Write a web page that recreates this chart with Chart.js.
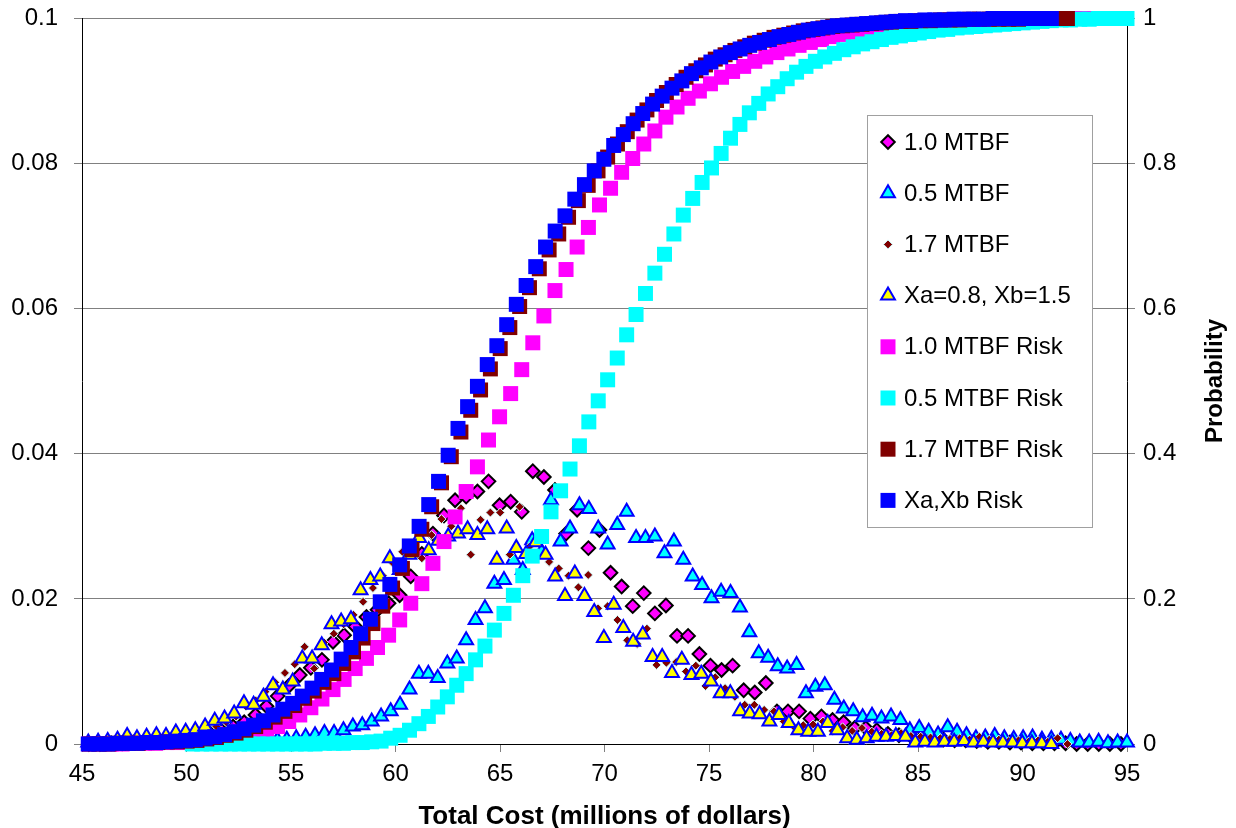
<!DOCTYPE html>
<html lang="en">
<head>
<meta charset="UTF-8">
<title>Total Cost distribution</title>
<script src="https://cdn.jsdelivr.net/npm/chart.js"></script>
<style>
  html, body { margin: 0; padding: 0; background: #fff; }
  .chart-box { position: relative; width: 1236px; height: 828px; }
</style>
</head>
<body>
<div class="chart-box"><canvas id="costChart" width="1236" height="828"></canvas></div>
<script>
// histogram bin centres (millions of dollars), one grid per case
const binsMtbf10 = [45.33, 45.86, 46.39, 46.92, 47.45, 47.99, 48.52, 49.05, 49.58, 50.11,
  50.64, 51.17, 51.70, 52.23, 52.76, 53.30, 53.83, 54.36, 54.89, 55.42,
  55.95, 56.48, 57.01, 57.54, 58.07, 58.61, 59.14, 59.67, 60.20, 60.73,
  61.26, 61.79, 62.32, 62.85, 63.38, 63.92, 64.45, 64.98, 65.51, 66.04,
  66.57, 67.10, 67.63, 68.16, 68.69, 69.23, 69.76, 70.29, 70.82, 71.35,
  71.88, 72.41, 72.94, 73.47, 74.00, 74.54, 75.07, 75.60, 76.13, 76.66,
  77.19, 77.72, 78.25, 78.78, 79.31, 79.85, 80.38, 80.91, 81.44, 81.97,
  82.50, 83.03, 83.56, 84.09, 84.62, 85.16, 85.69, 86.22, 86.75, 87.28,
  87.81, 88.34, 88.87, 89.40, 89.93, 90.47, 91.00, 91.53, 92.06, 92.59,
  93.12, 93.65, 94.18, 94.71];
const binsMtbf05 = [50.28, 50.73, 51.18, 51.64, 52.09, 52.54, 52.99, 53.44, 53.89, 54.35,
  54.80, 55.25, 55.70, 56.15, 56.60, 57.06, 57.51, 57.96, 58.41, 58.86,
  59.31, 59.77, 60.22, 60.67, 61.12, 61.57, 62.02, 62.48, 62.93, 63.38,
  63.83, 64.28, 64.73, 65.19, 65.64, 66.09, 66.54, 66.99, 67.44, 67.90,
  68.35, 68.80, 69.25, 69.70, 70.15, 70.61, 71.06, 71.51, 71.96, 72.41,
  72.87, 73.32, 73.77, 74.22, 74.67, 75.12, 75.58, 76.03, 76.48, 76.93,
  77.38, 77.83, 78.29, 78.74, 79.19, 79.64, 80.09, 80.54, 81.00, 81.45,
  81.90, 82.35, 82.80, 83.25, 83.71, 84.16, 84.61, 85.06, 85.51, 85.96,
  86.42, 86.87, 87.32, 87.77, 88.22, 88.67, 89.13, 89.58, 90.03, 90.48,
  90.93, 91.38, 91.84, 92.29, 92.74, 93.19, 93.64, 94.09, 94.55, 95.00];
const binsMtbf17 = [45.35, 45.82, 46.29, 46.75, 47.22, 47.69, 48.16, 48.63, 49.09, 49.56,
  50.03, 50.50, 50.97, 51.43, 51.90, 52.37, 52.84, 53.31, 53.77, 54.24,
  54.71, 55.18, 55.65, 56.11, 56.58, 57.05, 57.52, 57.99, 58.45, 58.92,
  59.39, 59.86, 60.33, 60.79, 61.26, 61.73, 62.20, 62.67, 63.13, 63.60,
  64.07, 64.54, 65.01, 65.47, 65.94, 66.41, 66.88, 67.35, 67.81, 68.28,
  68.75, 69.22, 69.69, 70.15, 70.62, 71.09, 71.56, 72.03, 72.49, 72.96,
  73.43, 73.90, 74.37, 74.83, 75.30, 75.77, 76.24, 76.71, 77.17, 77.64,
  78.11, 78.58, 79.05, 79.51, 79.98, 80.45, 80.92, 81.39, 81.85, 82.32,
  82.79, 83.26, 83.73, 84.19, 84.66, 85.13, 85.60, 86.07, 86.53, 87.00,
  87.47, 87.94, 88.41, 88.87, 89.34, 89.81, 90.28, 90.75, 91.21, 91.68,
  92.15];
const binsXaXb = [45.30, 45.77, 46.23, 46.70, 47.16, 47.63, 48.09, 48.56, 49.02, 49.49,
  49.96, 50.42, 50.89, 51.35, 51.82, 52.28, 52.75, 53.21, 53.68, 54.14,
  54.61, 55.08, 55.54, 56.01, 56.47, 56.94, 57.40, 57.87, 58.33, 58.80,
  59.27, 59.73, 60.20, 60.66, 61.13, 61.59, 62.06, 62.52, 62.99, 63.45,
  63.92, 64.39, 64.85, 65.32, 65.78, 66.25, 66.71, 67.18, 67.64, 68.11,
  68.58, 69.04, 69.51, 69.97, 70.44, 70.90, 71.37, 71.83, 72.30, 72.76,
  73.23, 73.70, 74.16, 74.63, 75.09, 75.56, 76.02, 76.49, 76.95, 77.42,
  77.89, 78.35, 78.82, 79.28, 79.75, 80.21, 80.68, 81.14, 81.61, 82.07,
  82.54, 83.01, 83.47, 83.94, 84.40, 84.87, 85.33, 85.80, 86.26, 86.73,
  87.20, 87.66, 88.13, 88.59, 89.06, 89.52, 89.99, 90.45, 90.92, 91.38];

// probability per bin (left axis)
const pdfMtbf10 = [0.0000, 0.0000, 0.0001, 0.0001, 0.0002, 0.0002, 0.0003, 0.0005, 0.0006, 0.0008,
  0.0011, 0.0014, 0.0018, 0.0024, 0.0030, 0.0040, 0.0052, 0.0066, 0.0080, 0.0095,
  0.0105, 0.0116, 0.0141, 0.0150, 0.0162, 0.0175, 0.0185, 0.0194, 0.0205, 0.0231,
  0.0262, 0.0290, 0.0315, 0.0336, 0.0341, 0.0348, 0.0362, 0.0329, 0.0334, 0.0320,
  0.0376, 0.0368, 0.0350, 0.0290, 0.0323, 0.0270, 0.0295, 0.0236, 0.0217, 0.0190,
  0.0208, 0.0180, 0.0191, 0.0149, 0.0149, 0.0124, 0.0108, 0.0102, 0.0108, 0.0074,
  0.0071, 0.0084, 0.0045, 0.0045, 0.0045, 0.0035, 0.0038, 0.0033, 0.0030, 0.0022,
  0.0022, 0.0019, 0.0014, 0.0012, 0.0012, 0.0008, 0.0008, 0.0006, 0.0005, 0.0005,
  0.0004, 0.0003, 0.0003, 0.0002, 0.0002, 0.0001, 0.0001, 0.0001, 0.0001, 0.0000,
  0.0000, 0.0000, 0.0000, 0.0000];
const pdfMtbf05 = [0.0000, 0.0000, 0.0001, 0.0001, 0.0001, 0.0002, 0.0003, 0.0003, 0.0004, 0.0005,
  0.0006, 0.0008, 0.0010, 0.0012, 0.0015, 0.0015, 0.0019, 0.0024, 0.0026, 0.0031,
  0.0038, 0.0045, 0.0054, 0.0075, 0.0097, 0.0097, 0.0091, 0.0111, 0.0118, 0.0143,
  0.0171, 0.0187, 0.0221, 0.0226, 0.0254, 0.0240, 0.0281, 0.0265, 0.0336, 0.0279,
  0.0297, 0.0329, 0.0324, 0.0297, 0.0275, 0.0302, 0.0320, 0.0284, 0.0284, 0.0286,
  0.0263, 0.0279, 0.0254, 0.0231, 0.0219, 0.0201, 0.0210, 0.0208, 0.0188, 0.0154,
  0.0125, 0.0119, 0.0107, 0.0104, 0.0109, 0.0070, 0.0079, 0.0081, 0.0061, 0.0049,
  0.0045, 0.0037, 0.0039, 0.0035, 0.0038, 0.0033, 0.0019, 0.0022, 0.0017, 0.0013,
  0.0023, 0.0017, 0.0012, 0.0008, 0.0009, 0.0011, 0.0008, 0.0007, 0.0008, 0.0009,
  0.0006, 0.0007, 0.0006, 0.0004, 0.0002, 0.0002, 0.0003, 0.0001, 0.0002, 0.0002];
const pdfMtbf17 = [0.0000, 0.0001, 0.0001, 0.0002, 0.0002, 0.0003, 0.0004, 0.0005, 0.0006, 0.0008,
  0.0010, 0.0013, 0.0018, 0.0024, 0.0030, 0.0038, 0.0052, 0.0060, 0.0072, 0.0085,
  0.0098, 0.0110, 0.0134, 0.0104, 0.0140, 0.0152, 0.0165, 0.0178, 0.0196, 0.0215,
  0.0232, 0.0250, 0.0265, 0.0270, 0.0256, 0.0288, 0.0310, 0.0300, 0.0325, 0.0261,
  0.0309, 0.0319, 0.0319, 0.0261, 0.0327, 0.0272, 0.0285, 0.0251, 0.0242, 0.0232,
  0.0216, 0.0233, 0.0187, 0.0190, 0.0171, 0.0143, 0.0138, 0.0159, 0.0109, 0.0112,
  0.0113, 0.0100, 0.0108, 0.0080, 0.0092, 0.0077, 0.0065, 0.0054, 0.0054, 0.0047,
  0.0045, 0.0031, 0.0024, 0.0026, 0.0027, 0.0031, 0.0018, 0.0023, 0.0018, 0.0022,
  0.0017, 0.0014, 0.0012, 0.0015, 0.0011, 0.0010, 0.0009, 0.0008, 0.0007, 0.0008,
  0.0006, 0.0010, 0.0006, 0.0006, 0.0004, 0.0005, 0.0003, 0.0005, 0.0003, 0.0008,
  0.0000];
const pdfXaXb = [0.0002, 0.0003, 0.0004, 0.0006, 0.0011, 0.0008, 0.0010, 0.0012, 0.0011, 0.0016,
  0.0017, 0.0019, 0.0024, 0.0032, 0.0035, 0.0042, 0.0056, 0.0054, 0.0065, 0.0081,
  0.0075, 0.0086, 0.0118, 0.0118, 0.0136, 0.0165, 0.0169, 0.0172, 0.0212, 0.0226,
  0.0231, 0.0256, 0.0240, 0.0261, 0.0284, 0.0267, 0.0280, 0.0286, 0.0290, 0.0296,
  0.0288, 0.0296, 0.0254, 0.0297, 0.0270, 0.0262, 0.0278, 0.0261, 0.0231, 0.0204,
  0.0235, 0.0204, 0.0182, 0.0146, 0.0192, 0.0160, 0.0141, 0.0151, 0.0120, 0.0120,
  0.0098, 0.0116, 0.0095, 0.0097, 0.0086, 0.0070, 0.0070, 0.0045, 0.0042, 0.0041,
  0.0031, 0.0040, 0.0029, 0.0019, 0.0017, 0.0017, 0.0029, 0.0019, 0.0008, 0.0006,
  0.0008, 0.0010, 0.0010, 0.0011, 0.0010, 0.0002, 0.0003, 0.0002, 0.0003, 0.0003,
  0.0004, 0.0002, 0.0003, 0.0002, 0.0002, 0.0002, 0.0001, 0.0001, 0.0001, 0.0000];

// cumulative probability (right axis)
const cdfMtbf10 = [0.000, 0.000, 0.000, 0.000, 0.001, 0.001, 0.001, 0.002, 0.002, 0.003,
  0.004, 0.005, 0.007, 0.008, 0.010, 0.013, 0.018, 0.024, 0.031, 0.040,
  0.050, 0.062, 0.075, 0.089, 0.104, 0.118, 0.133, 0.150, 0.171, 0.194,
  0.221, 0.249, 0.279, 0.313, 0.348, 0.382, 0.419, 0.451, 0.483, 0.516,
  0.553, 0.590, 0.625, 0.654, 0.685, 0.712, 0.743, 0.766, 0.788, 0.807,
  0.827, 0.845, 0.864, 0.878, 0.890, 0.900, 0.910, 0.919, 0.927, 0.934,
  0.941, 0.947, 0.953, 0.958, 0.963, 0.967, 0.971, 0.975, 0.978, 0.981,
  0.984, 0.986, 0.988, 0.990, 0.991, 0.993, 0.994, 0.995, 0.996, 0.997,
  0.997, 0.998, 0.998, 0.999, 0.999, 0.999, 0.999, 1.000, 1.000, 1.000,
  1.000, 1.000, 1.000, 1.000];
const cdfMtbf05 = [0.000, 0.000, 0.000, 0.000, 0.000, 0.000, 0.000, 0.000, 0.000, 0.000,
  0.000, 0.000, 0.000, 0.000, 0.001, 0.001, 0.001, 0.002, 0.002, 0.003,
  0.004, 0.008, 0.012, 0.019, 0.028, 0.038, 0.051, 0.065, 0.081, 0.097,
  0.116, 0.135, 0.157, 0.180, 0.205, 0.232, 0.259, 0.286, 0.320, 0.349,
  0.379, 0.411, 0.444, 0.473, 0.502, 0.532, 0.564, 0.592, 0.621, 0.649,
  0.675, 0.703, 0.729, 0.752, 0.774, 0.794, 0.814, 0.835, 0.854, 0.870,
  0.883, 0.896, 0.906, 0.917, 0.926, 0.934, 0.941, 0.947, 0.952, 0.957,
  0.961, 0.965, 0.968, 0.971, 0.974, 0.976, 0.978, 0.980, 0.982, 0.984,
  0.985, 0.987, 0.988, 0.989, 0.990, 0.991, 0.992, 0.993, 0.994, 0.995,
  0.996, 0.997, 0.998, 0.998, 0.999, 0.999, 1.000, 1.000, 1.000, 1.000];
const cdfMtbf17 = [0.000, 0.000, 0.000, 0.001, 0.001, 0.001, 0.002, 0.002, 0.003, 0.003,
  0.004, 0.005, 0.007, 0.009, 0.012, 0.015, 0.019, 0.024, 0.030, 0.037,
  0.045, 0.053, 0.063, 0.073, 0.085, 0.097, 0.111, 0.127, 0.146, 0.166,
  0.190, 0.215, 0.242, 0.268, 0.296, 0.327, 0.360, 0.396, 0.430, 0.460,
  0.488, 0.517, 0.545, 0.574, 0.603, 0.629, 0.655, 0.681, 0.703, 0.726,
  0.749, 0.770, 0.790, 0.809, 0.827, 0.844, 0.860, 0.874, 0.887, 0.898,
  0.909, 0.919, 0.928, 0.936, 0.944, 0.950, 0.956, 0.961, 0.966, 0.970,
  0.974, 0.977, 0.980, 0.983, 0.985, 0.987, 0.989, 0.990, 0.991, 0.992,
  0.993, 0.994, 0.995, 0.996, 0.996, 0.997, 0.997, 0.998, 0.998, 0.998,
  0.999, 0.999, 0.999, 0.999, 0.999, 0.999, 1.000, 1.000, 1.000, 1.000,
  1.000];
const cdfXaXb = [0.000, 0.000, 0.000, 0.001, 0.001, 0.001, 0.002, 0.002, 0.003, 0.004,
  0.005, 0.006, 0.008, 0.010, 0.013, 0.017, 0.021, 0.026, 0.032, 0.040,
  0.048, 0.056, 0.066, 0.077, 0.089, 0.102, 0.117, 0.133, 0.152, 0.172,
  0.196, 0.220, 0.247, 0.273, 0.300, 0.330, 0.362, 0.398, 0.435, 0.465,
  0.493, 0.523, 0.549, 0.578, 0.606, 0.632, 0.658, 0.685, 0.707, 0.728,
  0.751, 0.771, 0.790, 0.806, 0.825, 0.840, 0.855, 0.869, 0.882, 0.893,
  0.904, 0.914, 0.924, 0.932, 0.940, 0.947, 0.953, 0.958, 0.963, 0.967,
  0.971, 0.975, 0.978, 0.981, 0.984, 0.986, 0.988, 0.990, 0.991, 0.992,
  0.993, 0.994, 0.995, 0.996, 0.997, 0.997, 0.998, 0.998, 0.998, 0.999,
  0.999, 0.999, 0.999, 1.000, 1.000, 1.000, 1.000, 1.000, 1.000, 1.000];

// axis ticks
const costTicks = [45, 50, 55, 60, 65, 70, 75, 80, 85, 90, 95];
const pdfTicks = [0, 0.02, 0.04, 0.06, 0.08, 0.1];
const cdfTicks = [0, 0.2, 0.4, 0.6, 0.8, 1];

const FONT = '"Liberation Sans", Arial, sans-serif';

function toPoints(xs, ys) {
  return ys.map((y, i) => ({ x: xs[i], y: y }));
}

function marker(label, xs, ys, axis, style, radius, fill, stroke, strokeWidth, order) {
  return {
    label: label,
    data: toPoints(xs, ys),
    yAxisID: axis,
    pointStyle: style,
    pointRadius: radius,
    pointHoverRadius: radius,
    pointBackgroundColor: fill,
    pointBorderColor: stroke,
    pointBorderWidth: strokeWidth,
    showLine: false,
    clip: false,
    order: order
  };
}

// same shapes as the chart points, used for the legend box
function drawMarker(ctx, ds, x, y) {
  const r = ds.pointRadius;
  ctx.beginPath();
  if (ds.pointStyle === 'rect') {
    const s = r * Math.SQRT1_2;
    ctx.rect(x - s, y - s, 2 * s, 2 * s);
  } else if (ds.pointStyle === 'rectRot') {
    ctx.moveTo(x, y - r);
    ctx.lineTo(x + r, y);
    ctx.lineTo(x, y + r);
    ctx.lineTo(x - r, y);
    ctx.closePath();
  } else {
    ctx.moveTo(x, y - r);
    ctx.lineTo(x + r * Math.sin(2 * Math.PI / 3), y + r / 2);
    ctx.lineTo(x - r * Math.sin(2 * Math.PI / 3), y + r / 2);
    ctx.closePath();
  }
  ctx.fillStyle = ds.pointBackgroundColor;
  ctx.fill();
  if (ds.pointBorderWidth > 0) {
    ctx.lineWidth = ds.pointBorderWidth;
    ctx.strokeStyle = ds.pointBorderColor;
    ctx.stroke();
  }
}

const boxLegend = {
  id: 'boxLegend',
  afterDraw(chart) {
    const ctx = chart.ctx;
    ctx.save();
    // legend inside the plot
    ctx.fillStyle = '#fff';
    ctx.fillRect(867, 115, 225, 412);
    ctx.strokeStyle = '#a0a0a0';
    ctx.lineWidth = 1;
    ctx.strokeRect(867.5, 115.5, 225, 412);
    ctx.font = '24px ' + FONT;
    ctx.textBaseline = 'middle';
    ctx.textAlign = 'left';
    chart.data.datasets.forEach((ds, i) => {
      const y = 142 + i * 51.2;
      drawMarker(ctx, ds, 888, y);
      ctx.fillStyle = '#000';
      ctx.fillText(ds.label, 904, y + 1);
    });
    // right axis title, reading upwards
    ctx.translate(1215, 381);
    ctx.rotate(-Math.PI / 2);
    ctx.font = 'bold 24px ' + FONT;
    ctx.textAlign = 'center';
    ctx.fillText('Probability', 0, 0);
    ctx.restore();
  }
};

// fixed plot frame: drop the extra room Chart.js keeps for the end labels
function fixedWidth(w) {
  return (s) => { s.width = w; s.paddingTop = 0; s.paddingBottom = 0; };
}

new Chart(document.getElementById('costChart'), {
  type: 'scatter',
  data: {
    datasets: [
      marker('1.0 MTBF', binsMtbf10, pdfMtbf10, 'y', 'rectRot', 6.8, '#ff00ff', '#000000', 2, 8),
      marker('0.5 MTBF', binsMtbf05, pdfMtbf05, 'y', 'triangle', 8, '#00ffff', '#0000ff', 2, 7),
      marker('1.7 MTBF', binsMtbf17, pdfMtbf17, 'y', 'rectRot', 4.5, '#800000', '#ccffff', 1, 6),
      marker('Xa=0.8, Xb=1.5', binsXaXb, pdfXaXb, 'y', 'triangle', 8, '#ffff00', '#0000ff', 2, 5),
      marker('1.0 MTBF Risk', binsMtbf10, cdfMtbf10, 'y2', 'rect', 10.6, '#ff00ff', '#ff00ff', 0, 4),
      marker('0.5 MTBF Risk', binsMtbf05, cdfMtbf05, 'y2', 'rect', 10.6, '#00ffff', '#00ffff', 0, 3),
      marker('1.7 MTBF Risk', binsMtbf17, cdfMtbf17, 'y2', 'rect', 10.6, '#800000', '#800000', 0, 2),
      marker('Xa,Xb Risk', binsXaXb, cdfXaXb, 'y2', 'rect', 10.6, '#0000ff', '#0000ff', 0, 1)
    ]
  },
  options: {
    responsive: false,
    animation: false,
    events: [],
    layout: { padding: { top: 18.5, right: 0, bottom: 0, left: 0 } },
    plugins: {
      legend: { display: false },
      tooltip: { enabled: false }
    },
    scales: {
      x: {
        type: 'linear',
        min: 45,
        max: 95,
        afterBuildTicks: (s) => { s.ticks = costTicks.map(v => ({ value: v })); },
        afterFit: (s) => { s.height = 84; s.paddingLeft = 0; s.paddingRight = 0; },
        ticks: { color: '#000', font: { family: FONT, size: 24 }, padding: 8, maxRotation: 0 },
        grid: { drawOnChartArea: false, drawTicks: true, tickLength: 8, tickColor: '#808080' },
        border: { color: '#000', width: 1 },
        title: {
          display: true,
          text: 'Total Cost (millions of dollars)',
          color: '#000',
          font: { family: FONT, size: 26, weight: 'bold', lineHeight: 1 },
          padding: { top: 0, bottom: -2 }
        }
      },
      y: {
        position: 'left',
        min: 0,
        max: 0.1,
        afterBuildTicks: (s) => { s.ticks = pdfTicks.map(v => ({ value: v })); },
        afterFit: fixedWidth(82),
        ticks: { color: '#000', font: { family: FONT, size: 24 }, padding: 16, callback: (v) => String(v) },
        grid: { color: '#808080', lineWidth: 1, tickLength: 8, tickColor: '#808080' },
        border: { color: '#000', width: 1 }
      },
      y2: {
        position: 'right',
        min: 0,
        max: 1,
        afterBuildTicks: (s) => { s.ticks = cdfTicks.map(v => ({ value: v })); },
        afterFit: fixedWidth(109),
        ticks: { color: '#000', font: { family: FONT, size: 24 }, padding: 8, callback: (v) => String(v) },
        grid: { drawOnChartArea: false, tickLength: 8, tickColor: '#808080' },
        border: { color: '#000', width: 1 }
      }
    }
  },
  plugins: [boxLegend]
});
</script>
</body>
</html>
